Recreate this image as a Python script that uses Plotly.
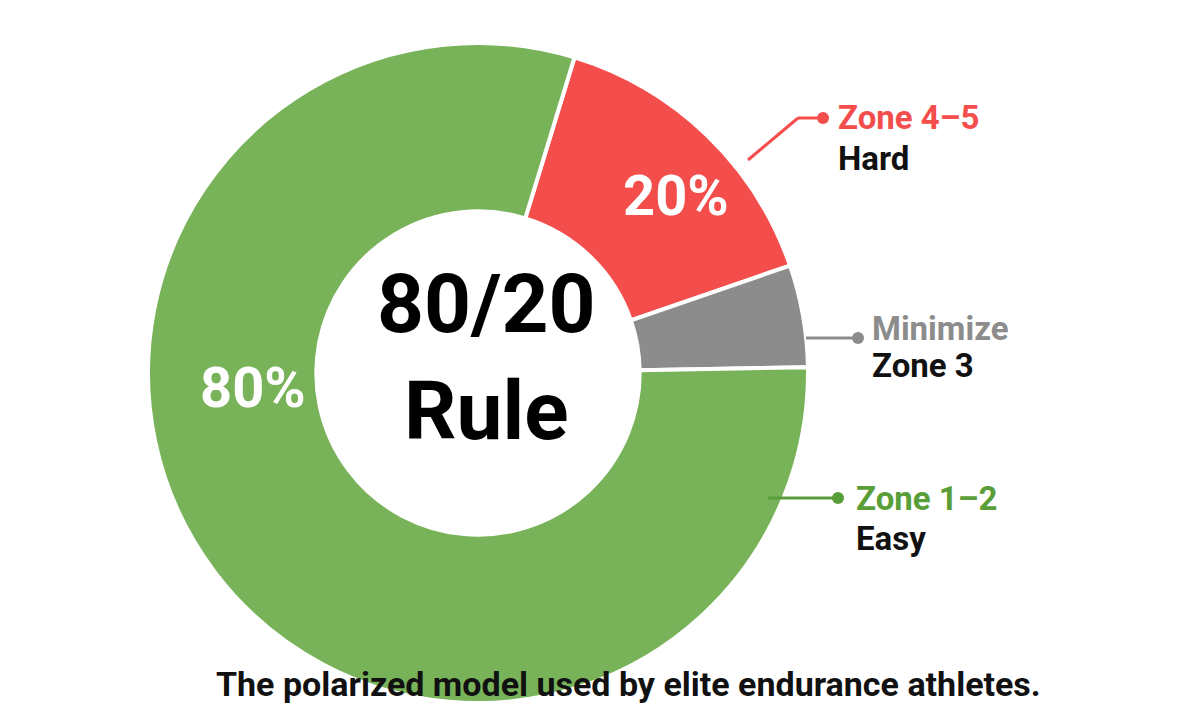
import plotly.graph_objects as go

zones = ["Zone 4–5 Hard", "Zone 3", "Zone 1–2 Easy"]
shares = [15, 5, 80]
colors = ["#f44e4c", "#8c8c8c", "#78b35a"]
W, H = 1200, 708
def px(x): return x / W
def py(y): return 1 - y / H

fig = go.Figure(go.Pie(
    labels=zones, values=shares, sort=False, direction="clockwise", rotation=17,
    hole=0.49, marker=dict(colors=colors, line=dict(color="white", width=4)),
    textinfo="none", hoverinfo="label+percent", showlegend=False,
    domain=dict(x=[px(140), px(800)], y=[py(695), py(35)]),
))
F = "Roboto"
ann = [
    ("<b>20%</b>", 668, 188, "white", 56, "center"),
    ("<b>80%</b>", 245, 380, "white", 56, "center"),
    ("<b>80/20<br>Rule</b>", 478, 350, "black", 82, "center"),
    ("<b>Zone 4–5</b>", 828, 110, "#f44e4c", 33, "left"),
    ("<b>Hard</b>", 828, 150, "#111", 33, "left"),
    ("<b>Minimize</b>", 862, 320, "#8c8c8c", 33, "left"),
    ("<b>Zone 3</b>", 862, 358, "#111", 33, "left"),
    ("<b>Zone 1–2</b>", 846, 490, "#5a9e3a", 33, "left"),
    ("<b>Easy</b>", 846, 530, "#111", 33, "left"),
    ("<b>The polarized model used by elite endurance athletes.</b>", 620, 676, "#111", 34, "center"),
]
for t, x, y, c, s, a in ann:
    fig.add_annotation(text=t, x=px(x), y=py(y), xref="paper", yref="paper",
                       showarrow=False, font=dict(family=F, size=s, color=c),
                       xanchor=a, yanchor="middle", align=a)
lines = [([(740, 152), (790, 110), (815, 110)], "#f44e4c"),
         ([(798, 330), (850, 330)], "#8c8c8c"),
         ([(760, 490), (830, 490)], "#5a9e3a")]
for pts, c in lines:
    for (x0, y0), (x1, y1) in zip(pts[:-1], pts[1:]):
        fig.add_shape(type="line", xref="paper", yref="paper", x0=px(x0), y0=py(y0),
                      x1=px(x1), y1=py(y1), line=dict(color=c, width=3))
    xe, ye = pts[-1]
    fig.add_shape(type="circle", xref="paper", yref="paper", x0=px(xe-6), x1=px(xe+6),
                  y0=py(ye+6), y1=py(ye-6), fillcolor=c, line=dict(width=0))
fig.update_layout(width=W, height=H, margin=dict(l=0, r=0, t=0, b=0),
                  paper_bgcolor="white", plot_bgcolor="white")
fig.write_html("out.html")
